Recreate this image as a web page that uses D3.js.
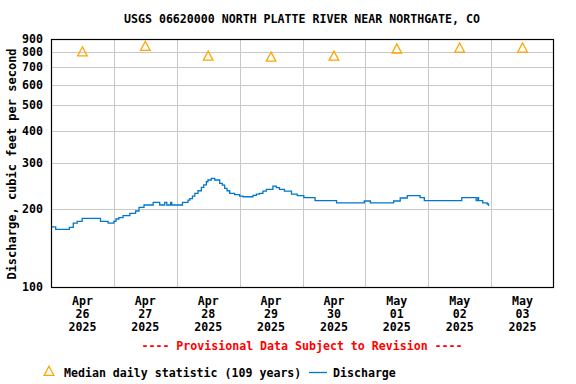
<!DOCTYPE html>
<html><head><meta charset="utf-8">
<script src="https://cdn.jsdelivr.net/npm/d3@7"></script>
<style>
html,body{margin:0;padding:0;background:#fff;}
svg text{font-family:"DejaVu Sans Mono",monospace;font-weight:bold;fill:#000;}
</style></head>
<body>
<svg id="c" width="576" height="384"></svg>
<script>
const title = "USGS 06620000 NORTH PLATTE RIVER NEAR NORTHGATE, CO";
const yLabel = "Discharge, cubic feet per second";
const yTicks = [100,200,300,400,500,600,700,800,900];
const dayMonths = ["Apr","Apr","Apr","Apr","Apr","May","May","May"];
const dayNums = ["26","27","28","29","30","01","02","03"];
const dayYears = ["2025","2025","2025","2025","2025","2025","2025","2025"];
// median daily statistic (one per day, plotted at noon)
const medianValues = [805,845,775,768,775,826,833,833];
// discharge: hours since 2025-04-26 00:00, value (cfs)
const dischargeHours = [0,1.8,7.0,8.5,10.0,11.9,18.9,21.8,24.0,24.8,25.9,27.5,30.1,32.3,33.6,35.5,39.0,41.5,43.4,44.2,45.7,46.1,50.2,52.3,53.0,54.0,54.9,56.1,57.4,58.3,59.3,59.9,61.2,62.5,64.4,65.4,66.3,67.2,68.2,70.1,72.0,73.3,77.1,78.4,79.6,80.9,82.2,84.7,86.0,87.2,89.1,91.8,94.0,96.5,100.8,109.0,119.6,121.9,130.8,133.3,136.0,140.9,142.5,156.8,162.3,162.9,163.2,164.8,166.5,167.0];
const dischargeValues = [170.5,166.7,169.7,176.2,178.9,183.7,178.9,176.2,178.9,182.7,185,188.1,192.1,196.1,202.6,206.8,211.8,206.8,211.8,206.8,211.8,206.8,211.8,216.1,218.8,223.6,229.3,234.6,241.7,247.3,254.1,258.1,261.8,258.1,250.6,246.4,239.8,234.6,229.3,226.5,223.6,222.5,225,227.9,229.3,234,237.6,244.6,241,237.6,234,227.9,224.7,220.6,214.8,210.8,214.2,210.8,214.2,220,224.7,220.6,214.8,220.6,214.8,220.6,214.8,210.8,208.6,205];

const svg = d3.select("#c");
const L=51, R=554, T=39, B=287;
const t0 = Date.UTC(2025,3,26,0,0);
const H = 3600*1000;
const x = d3.scaleUtc().domain([new Date(t0), new Date(t0+8*24*H)]).range([L,R]);
const y = d3.scaleLog().domain([100,900]).range([B,T]);

// grid
const g = svg.append("g");
g.selectAll("line.h").data(yTicks).join("line")
  .attr("x1",L).attr("x2",R).attr("y1",d=>Math.round(y(d))+0.5).attr("y2",d=>Math.round(y(d))+0.5)
  .attr("stroke","#c8c8c8").attr("stroke-width",1);
const dayBounds = d3.range(1,8).map(i=>new Date(t0+i*24*H));
g.selectAll("line.v").data(dayBounds).join("line")
  .attr("y1",T).attr("y2",B).attr("x1",d=>Math.round(x(d))+0.5).attr("x2",d=>Math.round(x(d))+0.5)
  .attr("stroke","#c8c8c8").attr("stroke-width",1);

// discharge line
const pts = dischargeHours.map((h,i)=>[new Date(t0+h*H), dischargeValues[i]]);
svg.append("path").datum(pts)
  .attr("d", d3.line().x(d=>x(d[0])).y(d=>y(d[1])).curve(d3.curveStepAfter))
  .attr("fill","none").attr("stroke","#0077cc").attr("stroke-width",1.3);

// median triangles (bbox-centred)
const tri = "M0,-4.8L4.8,4.3L-4.8,4.3Z";
svg.selectAll("path.m").data(medianValues).join("path")
  .attr("d", tri)
  .attr("transform",(d,i)=>`translate(${x(new Date(t0+(i*24+12)*H))},${y(d)})`)
  .attr("fill","none").attr("stroke","#ffa500").attr("stroke-width",1.3);

// frame
svg.append("rect").attr("x",L+0.5).attr("y",T+0.5).attr("width",R-L-1).attr("height",B-T)
  .attr("fill","none").attr("stroke","#000").attr("stroke-width",1.2);

// y tick labels
svg.selectAll("text.yt").data(yTicks).join("text")
  .attr("x",43).attr("y",d=>y(d)+4).attr("text-anchor","end")
  .style("font-size","11.6px").text(d=>d);

// x tick labels
const xg = svg.append("g");
dayNums.forEach((n,i)=>{
  const cx = x(new Date(t0+(i*24+12)*H));
  const t = xg.append("text").attr("text-anchor","middle").style("font-size","11.6px");
  t.append("tspan").attr("x",cx).attr("y",305).text(dayMonths[i]);
  t.append("tspan").attr("x",cx).attr("y",318).text(n);
  t.append("tspan").attr("x",cx).attr("y",331).text(dayYears[i]);
});

// title
svg.append("text").attr("x",302).attr("y",23).attr("text-anchor","middle")
  .style("font-size","11.6px").text(title);

// y label
svg.append("text").attr("transform","translate(16,164) rotate(-90)").attr("text-anchor","middle")
  .style("font-size","12px").text(yLabel);

// provisional
svg.append("text").attr("x",302).attr("y",350).attr("text-anchor","middle")
  .style("font-size","11.6px").style("fill","#ff0000")
  .text("---- Provisional Data Subject to Revision ----");

// legend
svg.append("path").attr("d",tri).attr("transform","translate(49,371)")
  .attr("fill","none").attr("stroke","#ffa500").attr("stroke-width",1.3);
svg.append("text").attr("x",64).attr("y",377).style("font-size","11.6px")
  .text("Median daily statistic (109 years)");
svg.append("line").attr("x1",309).attr("x2",327).attr("y1",372.5).attr("y2",372.5)
  .attr("stroke","#0077cc").attr("stroke-width",1.3);
svg.append("text").attr("x",333).attr("y",377).style("font-size","11.6px").text("Discharge");
</script>
</body></html>
